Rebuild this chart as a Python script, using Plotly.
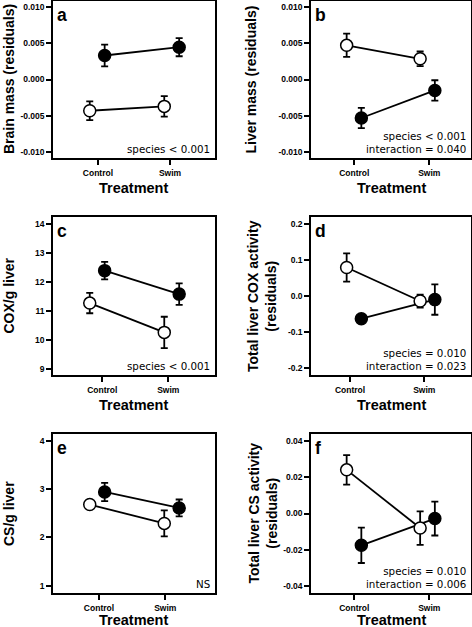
import plotly.graph_objects as go

# ---------------- data ----------------
categories = ["Control", "Swim"]

brain_filled = [0.0033, 0.00445]
brain_filled_se = [0.0015, 0.00125]
brain_open = [-0.0043, -0.0037]
brain_open_se = [0.0013, 0.0014]

liver_filled = [-0.0053, -0.0015]
liver_filled_se = [0.0014, 0.0014]
liver_open = [0.0047, 0.00285]
liver_open_se = [0.0016, 0.0010]

coxg_filled = [12.39, 11.58]
coxg_filled_se = [0.30, 0.37]
coxg_open = [11.27, 10.26]
coxg_open_se = [0.35, 0.54]

coxtot_filled = [-0.063, -0.010]
coxtot_filled_se = [0.008, 0.042]
coxtot_open = [0.079, -0.014]
coxtot_open_se = [0.039, 0.018]

csg_filled = [2.94, 2.61]
csg_filled_se = [0.19, 0.175]
csg_open = [2.68, 2.29]
csg_open_se = [0.08, 0.27]

cstot_filled = [-0.0175, -0.0028]
cstot_filled_se = [0.0097, 0.0093]
cstot_open = [0.0240, -0.0080]
cstot_open_se = [0.0081, 0.0092]

resid_ticks = [-0.010, -0.005, 0.0, 0.005, 0.010]
resid_ticklabels = ["-0.010", "-0.005", "0.000", "0.005", "0.010"]
coxg_ticks = [9, 10, 11, 12, 13, 14]
coxg_ticklabels = ["9", "10", "11", "12", "13", "14"]
coxtot_ticks = [-0.2, -0.1, 0.0, 0.1, 0.2]
coxtot_ticklabels = ["-0.2", "-0.1", "0.0", "0.1", "0.2"]
csg_ticks = [1, 2, 3, 4]
csg_ticklabels = ["1", "2", "3", "4"]
cstot_ticks = [-0.04, -0.02, 0.0, 0.02, 0.04]
cstot_ticklabels = ["-0.04", "-0.02", "0.00", "0.02", "0.04"]

# ---------------- layout geometry ----------------
W, H = 472, 627
def py(p):
    return 1 - p / H

col_dom = [[53 / W, 214.5 / W], [311 / W, 471 / W]]
row_dom = [[py(158), py(1)], [py(375), py(217)], [py(593), py(434)]]
col_xrange = [[0.407, 2.574], [0.415, 2.592]]
title_x = [8.5 / W, 262 / W]
xtitle_shift = [-30, -30, -27]
DODGE = 0.1

panels = [
    dict(letter="a", row=0, col=0, f=brain_filled, fse=brain_filled_se, o=brain_open, ose=brain_open_se,
         yr=[-0.0108, 0.0108], yt=resid_ticks, ytl=resid_ticklabels, xt=[1.01, 1.977],
         ytitle="Brain mass (residuals)", tx=title_x[0], stats="species &lt; 0.001"),
    dict(letter="b", row=0, col=1, f=liver_filled, fse=liver_filled_se, o=liver_open, ose=liver_open_se,
         yr=[-0.0108, 0.0108], yt=resid_ticks, ytl=resid_ticklabels, xt=[1.004, 2.024],
         ytitle="Liver mass (residuals)", tx=250 / W, stats="species &lt; 0.001<br>interaction = 0.040"),
    dict(letter="c", row=1, col=0, f=coxg_filled, fse=coxg_filled_se, o=coxg_open, ose=coxg_open_se,
         yr=[8.79, 14.24], yt=coxg_ticks, ytl=coxg_ticklabels, xt=[1.068, 1.954],
         ytitle="COX/g liver", tx=title_x[0], stats="species &lt; 0.001"),
    dict(letter="d", row=1, col=1, f=coxtot_filled, fse=coxtot_filled_se, o=coxtot_open, ose=coxtot_open_se,
         yr=[-0.219, 0.219], yt=coxtot_ticks, ytl=coxtot_ticklabels, xt=[0.946, 1.956],
         ytitle="Total liver COX activity<br>(residuals)", tx=title_x[1],
         stats="species = 0.010<br>interaction = 0.023"),
    dict(letter="e", row=2, col=0, f=csg_filled, fse=csg_filled_se, o=csg_open, ose=csg_open_se,
         yr=[0.85, 4.14], yt=csg_ticks, ytl=csg_ticklabels, xt=[1.024, 1.913],
         ytitle="CS/g liver", tx=title_x[0], stats="NS"),
    dict(letter="f", row=2, col=1, f=cstot_filled, fse=cstot_filled_se, o=cstot_open, ose=cstot_open_se,
         yr=[-0.0437, 0.0437], yt=cstot_ticks, ytl=cstot_ticklabels, xt=[1.004, 2.024],
         ytitle="Total liver CS activity<br>(residuals)", tx=title_x[1],
         stats="species = 0.010<br>interaction = 0.006"),
]

BOLD = "Liberation Sans, Arial, sans-serif"
fig = go.Figure()
layout = dict(
    width=W, height=H, margin=dict(l=0, r=0, t=0, b=0),
    paper_bgcolor="white", plot_bgcolor="white", showlegend=False, hovermode=False,
)
annotations = []

for i, p in enumerate(panels):
    n = "" if i == 0 else str(i + 1)
    xa, ya = "x" + n, "y" + n
    xbase = [1, 2]
    xf = [v + DODGE for v in xbase]
    xo = [v - DODGE for v in xbase]
    # connecting lines
    fig.add_trace(go.Scatter(x=xf, y=p["f"], mode="lines", line=dict(color="black", width=1.8),
                             xaxis=xa, yaxis=ya))
    fig.add_trace(go.Scatter(x=xo, y=p["o"], mode="lines", line=dict(color="black", width=1.8),
                             xaxis=xa, yaxis=ya))
    # filled markers
    fig.add_trace(go.Scatter(x=xf, y=p["f"], mode="markers",
                             marker=dict(size=12, color="black", line=dict(color="black", width=1.5)),
                             error_y=dict(type="data", array=p["fse"], color="black", thickness=1.8, width=3.5),
                             xaxis=xa, yaxis=ya))
    # open markers
    fig.add_trace(go.Scatter(x=xo, y=p["o"], mode="markers",
                             marker=dict(size=12, color="white", line=dict(color="black", width=1.5)),
                             error_y=dict(type="data", array=p["ose"], color="black", thickness=1.8, width=3.5),
                             xaxis=xa, yaxis=ya))

    layout["xaxis" + n] = dict(
        domain=col_dom[p["col"]], anchor=ya, range=col_xrange[p["col"]],
        tickvals=p["xt"], ticktext=categories, ticks="outside", ticklen=5, tickwidth=1.5,
        tickcolor="black", showline=True, mirror=True, linecolor="black", linewidth=1.5,
        showgrid=False, zeroline=False, fixedrange=True, ticklabelstandoff=1,
        tickfont=dict(family=BOLD, size=8.5, color="black", weight="bold"),
    )
    layout["yaxis" + n] = dict(
        domain=row_dom[p["row"]], anchor=xa, range=p["yr"],
        tickvals=p["yt"], ticktext=p["ytl"], ticks="outside", ticklen=5, tickwidth=1.5,
        tickcolor="black", showline=True, mirror=True, linecolor="black", linewidth=1.5,
        showgrid=False, zeroline=False, fixedrange=True,
        tickfont=dict(family=BOLD, size=8.5, color="black", weight="bold"),
    )
    # panel letter
    annotations.append(dict(text=p["letter"], xref=xa + " domain", yref=ya + " domain", x=0, y=1,
                            xanchor="left", yanchor="top", xshift=2, yshift=-2, showarrow=False,
                            font=dict(family=BOLD, size=17.5, color="black", weight="bold")))
    # stats
    annotations.append(dict(text=p["stats"], xref=xa + " domain", yref=ya + " domain", x=1, y=0,
                            xanchor="right", yanchor="bottom", align="right", xshift=-3, yshift=1,
                            showarrow=False, font=dict(family="DejaVu Sans", size=10.3, color="black")))
    # x title
    annotations.append(dict(text="Treatment", xref=xa + " domain", yref=ya + " domain", x=0.5, y=0,
                            xanchor="center", yanchor="middle", yshift=xtitle_shift[p["row"]],
                            showarrow=False,
                            font=dict(family=BOLD, size=14.5, color="black", weight="bold")))
    # y title
    annotations.append(dict(text=p["ytitle"], xref="paper", yref=ya + " domain", x=p["tx"], y=0.5,
                            xanchor="center", yanchor="middle", textangle=-90, showarrow=False,
                            font=dict(family=BOLD, size=14, color="black", weight="bold")))

layout["annotations"] = annotations
fig.update_layout(**layout)
fig.write_html("out.html", config={"displayModeBar": False},
               post_script="document.body.style.margin='0px';document.body.style.overflow='hidden';")
